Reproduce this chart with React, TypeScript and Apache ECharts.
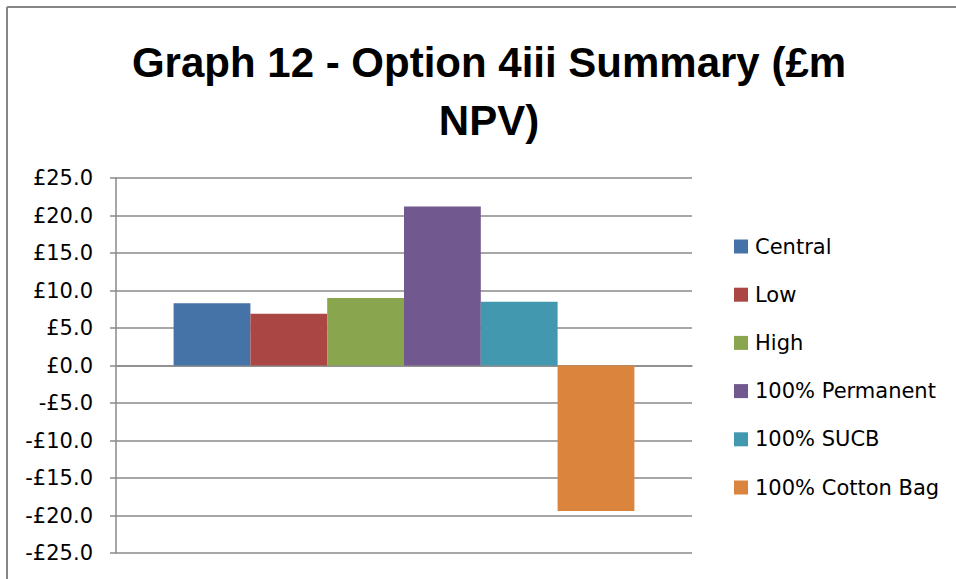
import React, { useEffect, useRef } from "react";
import * as echarts from "echarts";

const categories = [""];
const seriesNames = ["Central", "Low", "High", "100% Permanent", "100% SUCB", "100% Cotton Bag"];
const seriesValues = [8.3, 6.9, 9.0, 21.2, 8.5, -19.4];
const palette = ["#4572A7", "#AA4643", "#89A54E", "#71588F", "#4198AF", "#DB843D"];
const yTicks = { min: -25, max: 25, interval: 5 };
const titleText = "Graph 12 - Option 4iii Summary (£m\nNPV)";

export default function App() {
  const ref = useRef<HTMLDivElement>(null);
  useEffect(() => {
    if (!ref.current) return;
    const chart = echarts.init(ref.current, undefined, { renderer: "svg" });
    const gridColor = "#8a8a8a";
    chart.setOption({
      animation: false,
      backgroundColor: "#ffffff",
      title: {
        text: titleText,
        left: 489,
        top: 33,
        padding: 0,
        textAlign: "center",
        textStyle: {
          fontFamily: "Liberation Sans",
          fontWeight: "bold",
          fontSize: 42,
          lineHeight: 58,
          color: "#000000",
        },
      },
      legend: {
        orient: "vertical",
        left: 734,
        top: 236,
        itemWidth: 14,
        itemHeight: 14,
        itemGap: 27.2,
        icon: "rect",
        padding: 0,
        textStyle: {
          fontFamily: "DejaVu Sans",
          fontSize: 21,
          lineHeight: 20,
          color: "#000000",
          padding: [0, 0, 0, 2],
        },
        data: seriesNames,
      },
      grid: { left: 116, right: 264, top: 178, bottom: 26, containLabel: false },
      xAxis: {
        type: "category",
        data: categories,
        axisLine: { show: true, onZero: true, lineStyle: { color: gridColor, width: 1.5 } },
        axisTick: { show: false },
        axisLabel: { show: false },
        splitLine: { show: false },
      },
      yAxis: {
        type: "value",
        min: yTicks.min,
        max: yTicks.max,
        interval: yTicks.interval,
        axisLine: { show: true, lineStyle: { color: gridColor, width: 1.5 } },
        axisTick: { show: true, length: 6, lineStyle: { color: gridColor, width: 1.5 } },
        splitLine: { show: true, lineStyle: { color: gridColor, width: 1.5 } },
        axisLabel: {
          margin: 23,
          fontFamily: "DejaVu Sans",
          fontSize: 21,
          color: "#000000",
          formatter: (v: number) => (v < 0 ? "-£" : "£") + Math.abs(v).toFixed(1),
        },
      },
      series: seriesNames.map((name, i) => ({
        name,
        type: "bar",
        data: [seriesValues[i]],
        barGap: "0%",
        barCategoryGap: "20%",
        itemStyle: { color: palette[i] },
      })),
      graphic: [
        { type: "line", shape: { x1: 7, y1: 7, x2: 956, y2: 7 }, style: { stroke: "#868686", lineWidth: 2 } },
        { type: "line", shape: { x1: 7, y1: 7, x2: 7, y2: 579 }, style: { stroke: "#868686", lineWidth: 2 } },
      ],
    });
    return () => chart.dispose();
  }, []);
  return (
    <div
      ref={ref}
      style={{ position: "absolute", left: 0, top: 0, width: 956, height: 579 }}
    />
  );
}
